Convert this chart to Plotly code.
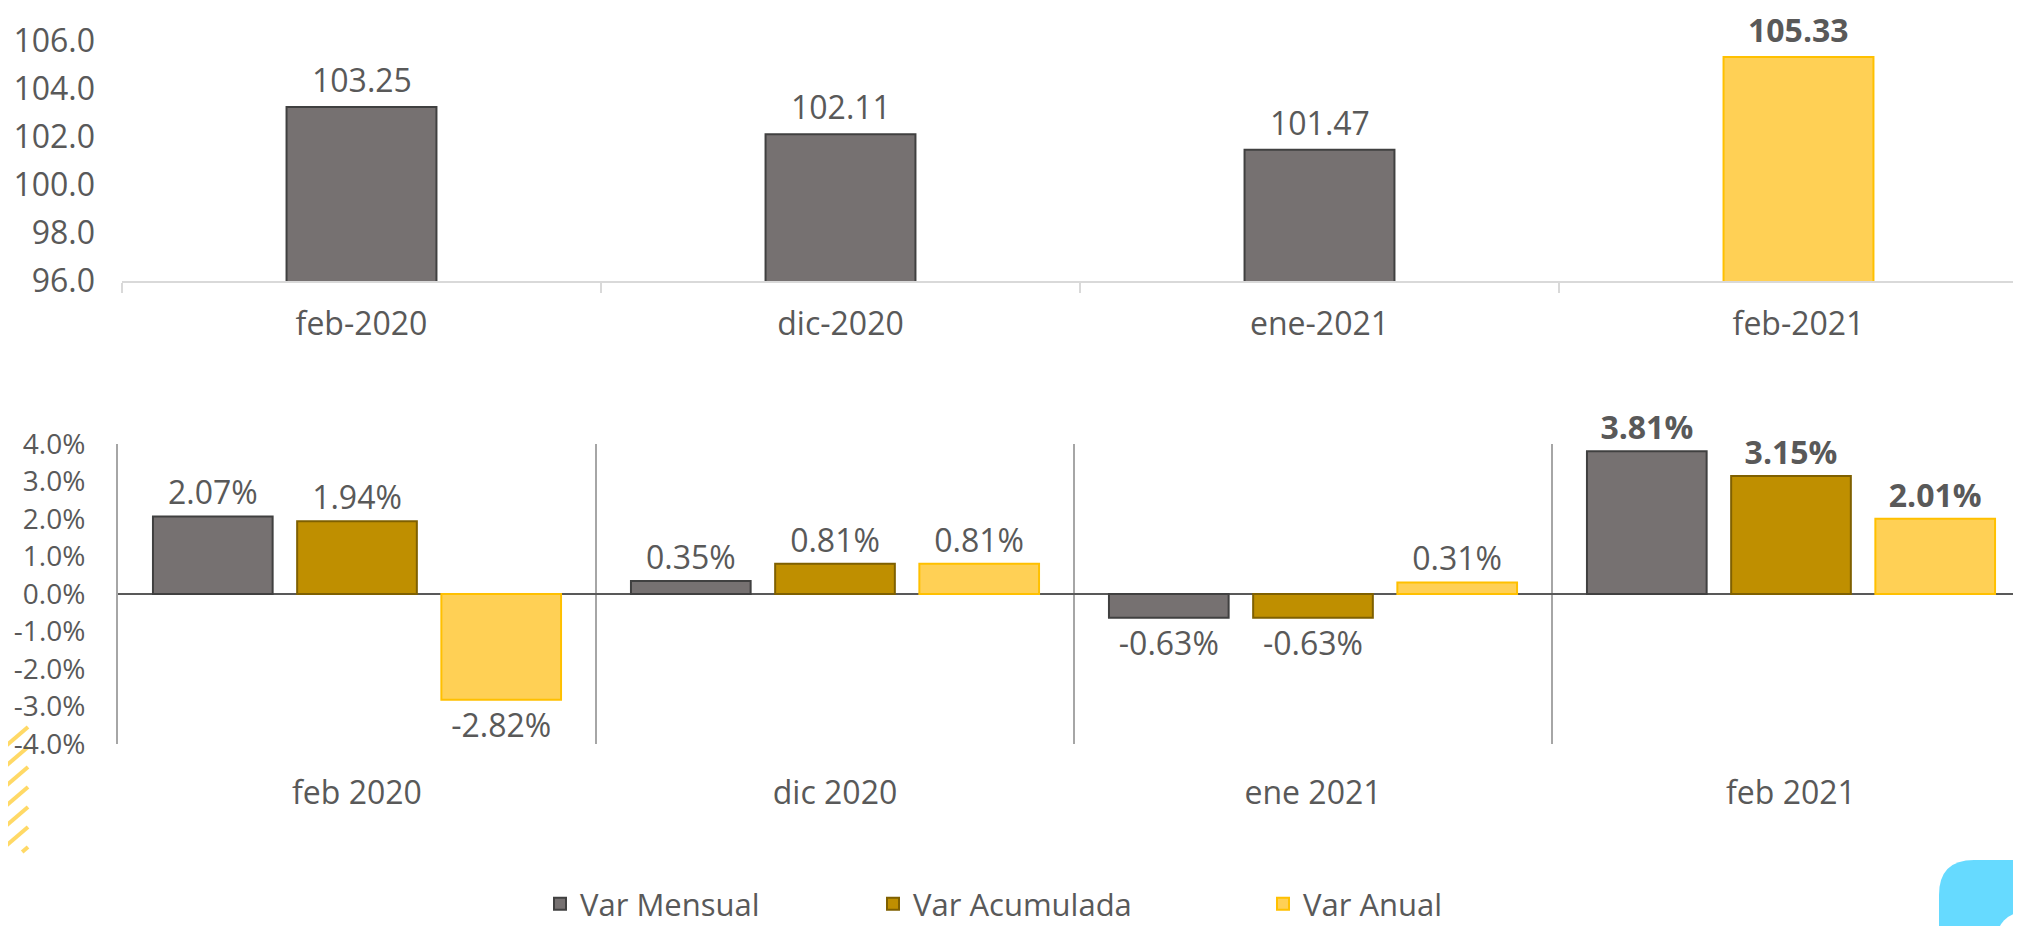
import plotly.graph_objects as go

W, H = 2021, 926
OFF = 8  # page body margin: figure is drawn 8px right/down of the window corner

# ---------------- data ----------------
top_categories = ["feb-2020", "dic-2020", "ene-2021", "feb-2021"]
top_values = [103.25, 102.11, 101.47, 105.33]
top_highlight = [False, False, False, True]
top_yticks = [96, 98, 100, 102, 104, 106]

bottom_categories = ["feb 2020", "dic 2020", "ene 2021", "feb 2021"]
var_mensual = [2.07, 0.35, -0.63, 3.81]
var_acumulada = [1.94, 0.81, -0.63, 3.15]
var_anual = [-2.82, 0.81, 0.31, 2.01]
bottom_highlight = [False, False, False, True]
bottom_yticks = [-4, -3, -2, -1, 0, 1, 2, 3, 4]

series_names = ["Var Mensual", "Var Acumulada", "Var Anual"]

# ---------------- styles ----------------
FONT = "Open Sans"
TXT = "#595959"
GRAY_FILL, GRAY_LINE = "#767171", "#404040"
GOLD_FILL, GOLD_LINE = "#BF8F00", "#7F6000"
YEL_FILL, YEL_LINE = "#FFD055", "#FFC000"
FS = 32
FS_Y2 = 28
FS_LEG = 31


def px_x(x):
    return (x - OFF) / W


def px_y(y):
    return 1 - (y - OFF) / H


def lab(v, bold, pct=False):
    s = f"{v:.2f}" + ("%" if pct else "")
    return f"<b>{s}</b>" if bold else s


fig = go.Figure()

# top chart
fig.add_trace(go.Bar(
    x=top_categories, y=top_values,
    xaxis="x", yaxis="y",
    width=0.313,
    marker=dict(color=[YEL_FILL if h else GRAY_FILL for h in top_highlight],
                line=dict(color=[YEL_LINE if h else GRAY_LINE for h in top_highlight], width=2)),
    showlegend=False, hoverinfo="skip",
))

top_annotations = [
    dict(x=c, y=v, xref="x", yref="y", text=lab(v, h), showarrow=False,
         yanchor="bottom", yshift=5, borderpad=0,
         font=dict(family=FONT, size=FS, color=TXT))
    for c, v, h in zip(top_categories, top_values, top_highlight)
]

# bottom chart
bottom_series = [var_mensual, var_acumulada, var_anual]
fills = [GRAY_FILL, GOLD_FILL, YEL_FILL]
lines = [GRAY_LINE, GOLD_LINE, YEL_LINE]
legends = ["legend", "legend2", "legend3"]
for name, vals, fc, lc, lg in zip(series_names, bottom_series, fills, lines, legends):
    fig.add_trace(go.Bar(
        name=name, x=bottom_categories, y=vals,
        xaxis="x2", yaxis="y2",
        marker=dict(color=fc, line=dict(color=lc, width=2)),
        text=[lab(v, h, pct=True) for v, h in zip(vals, bottom_highlight)],
        textposition="outside", constraintext="none", cliponaxis=False,
        textfont=dict(family=FONT, size=FS, color=TXT),
        legend=lg, hoverinfo="skip",
    ))

# plot areas in window pixels
top_px = (OFF, 281)
bot_px = (444, 744)
top_left, bot_left = 122, 118
top_cat_w, bot_cat_w = 479, 478

leg_common = dict(orientation="h", xanchor="left", y=px_y(904), yanchor="middle",
                  font=dict(family=FONT, size=FS_LEG, color=TXT), bgcolor="rgba(0,0,0,0)")

fig.update_layout(
    width=W, height=H,
    margin=dict(l=0, r=0, t=0, b=0, autoexpand=False),
    paper_bgcolor="white", plot_bgcolor="white",
    font=dict(family=FONT, size=FS, color=TXT),
    barmode="group", bargap=0.095, bargroupgap=0.17,
    xaxis=dict(
        domain=[px_x(top_left), 1], anchor="y", type="category",
        range=[-0.5, -0.5 + (W - (top_left - OFF)) / top_cat_w],
        tickson="boundaries", ticks="outside", ticklen=10, tickwidth=2, tickcolor="#D9D9D9",
        showline=True, linecolor="#D9D9D9", linewidth=2, showgrid=False,
        ticklabelstandoff=14, automargin=False,
        tickfont=dict(family=FONT, size=FS, color=TXT),
    ),
    yaxis=dict(
        domain=[px_y(top_px[1]), 1], anchor="x",
        range=[96, 96 + (top_px[1] - top_px[0]) / 24.0],
        tickvals=top_yticks, ticktext=[f"{t:.1f}" for t in top_yticks],
        showgrid=False, zeroline=False, showline=False, ticks="",
        ticklabelstandoff=26, automargin=False,
        tickfont=dict(family=FONT, size=FS, color=TXT),
    ),
    xaxis2=dict(
        domain=[px_x(bot_left), 1], anchor="y2", type="category",
        range=[-0.5, -0.5 + (W - (bot_left - OFF)) / bot_cat_w],
        tickson="boundaries", ticks="", showline=False,
        showgrid=True, gridcolor="#A6A6A6", gridwidth=2,
        ticklabelstandoff=27, automargin=False,
        tickfont=dict(family=FONT, size=FS, color=TXT),
    ),
    yaxis2=dict(
        domain=[px_y(bot_px[1]), px_y(bot_px[0])], anchor="x2",
        range=[-4, 4],
        tickvals=bottom_yticks, ticktext=[f"{t:.1f}%" for t in bottom_yticks],
        showgrid=False, showline=True, linecolor="#A6A6A6", linewidth=2,
        zeroline=True, zerolinecolor="#595959", zerolinewidth=2,
        ticks="", ticklabelstandoff=25, automargin=False,
        tickfont=dict(family=FONT, size=FS_Y2, color=TXT),
    ),
    legend=dict(x=px_x(540), **leg_common),
    legend2=dict(x=px_x(873), **leg_common),
    legend3=dict(x=px_x(1263), **leg_common),
    annotations=top_annotations,
)

# decorative slide elements (paper coordinates)
shapes = []
for k in range(7):
    xa, ya = 0, 751 + 20 * k
    xb, yb = 28, 727 + 20 * k
    if yb > 852:
        continue
    if ya > 852:
        t = (ya - 852) / (ya - yb)
        xa = xa + t * (xb - xa)
        ya = 852
    shapes.append(dict(type="line", xref="paper", yref="paper",
                       x0=px_x(xa), y0=px_y(ya), x1=px_x(xb), y1=px_y(yb),
                       line=dict(color="#FFD966", width=4), layer="below"))

r = 35
x0, y0 = 1939, 860
path = (f"M {px_x(x0)},{px_y(H + 20)} L {px_x(x0)},{px_y(y0 + r)} "
        f"Q {px_x(x0)},{px_y(y0)} {px_x(x0 + r)},{px_y(y0)} "
        f"L {px_x(W + 20)},{px_y(y0)} L {px_x(W + 20)},{px_y(H + 20)} Z")
shapes.append(dict(type="path", xref="paper", yref="paper", path=path,
                   fillcolor="#66DAFF", line=dict(width=0)))
shapes.append(dict(type="circle", xref="paper", yref="paper",
                   x0=px_x(1996), y0=px_y(968), x1=px_x(2052), y1=px_y(912),
                   fillcolor="white", line=dict(width=0)))
fig.update_layout(shapes=shapes)

fig.write_html("out.html")
